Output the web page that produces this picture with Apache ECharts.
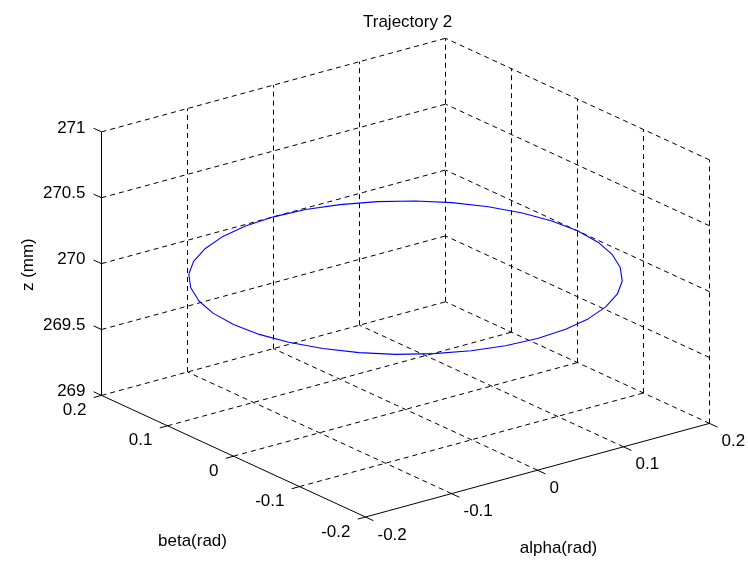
<!DOCTYPE html>
<html>
<head>
<meta charset="utf-8">
<title>Trajectory 2</title>
<script src="https://cdn.jsdelivr.net/npm/echarts@6/dist/echarts.min.js"></script>
<style>
  html, body { margin: 0; padding: 0; background: #fff; }
  #chart { width: 748px; height: 562px; }
</style>
</head>
<body>
<div id="chart"></div>
<script>
// ---- data ----
const alphaTicks = [-0.2, -0.1, 0, 0.1, 0.2];
const betaTicks = [-0.2, -0.1, 0, 0.1, 0.2];
const zTicks = [269, 269.5, 270, 270.5, 271];
const alphaTickLabels = ['-0.2', '-0.1', '0', '0.1', '0.2'];
const betaTickLabels = ['-0.2', '-0.1', '0', '0.1', '0.2'];
const zTickLabels = ['269', '269.5', '270', '270.5', '271'];

// trajectory samples (alpha, beta in rad; z in mm)
const trajAlpha = [0.2, 0.197, 0.188, 0.173, 0.153, 0.129, 0.1, 0.068, 0.035, 0, -0.035, -0.068, -0.1, -0.129, -0.153, -0.173, -0.188, -0.197, -0.2, -0.197, -0.188, -0.173, -0.153, -0.129, -0.1, -0.068, -0.035, 0, 0.035, 0.068, 0.1, 0.129, 0.153, 0.173, 0.188, 0.197, 0.2];
const trajBeta = [0, 0.035, 0.068, 0.1, 0.129, 0.153, 0.173, 0.188, 0.197, 0.2, 0.197, 0.188, 0.173, 0.153, 0.129, 0.1, 0.068, 0.035, 0, -0.035, -0.068, -0.1, -0.129, -0.153, -0.173, -0.188, -0.197, -0.2, -0.197, -0.188, -0.173, -0.153, -0.129, -0.1, -0.068, -0.035, 0];
const trajZ = [270, 270, 270, 270, 270, 270, 270, 270, 270, 270, 270, 270, 270, 270, 270, 270, 270, 270, 270, 270, 270, 270, 270, 270, 270, 270, 270, 270, 270, 270, 270, 270, 270, 270, 270, 270, 270];

// ---- view: orthographic projection of the 3D box onto the page plane ----
const aMin = alphaTicks[0], aMax = alphaTicks[alphaTicks.length - 1];
const bMin = betaTicks[0], bMax = betaTicks[betaTicks.length - 1];
const zMin = zTicks[0], zMax = zTicks[zTicks.length - 1];
const VIEW = {
  origin: [365.5, 517],        // (aMin, bMin, zMin)
  alphaSpan: [344, -93.6],     // full alpha range
  betaSpan: [-264, -121.6],    // full beta range
  zSpan: [0, -263.5]           // full z range
};
function proj(a, b, z) {
  const u = (a - aMin) / (aMax - aMin);
  const v = (b - bMin) / (bMax - bMin);
  const w = (z - zMin) / (zMax - zMin);
  return [
    VIEW.origin[0] + u * VIEW.alphaSpan[0] + v * VIEW.betaSpan[0] + w * VIEW.zSpan[0],
    VIEW.origin[1] + u * VIEW.alphaSpan[1] + v * VIEW.betaSpan[1] + w * VIEW.zSpan[1]
  ];
}

// ---- box grid, axes and ticks as 3D segments ----
const gridSegs = [];
alphaTicks.forEach(a => { if (a !== aMin) gridSegs.push([a, bMax, zMin, a, bMax, zMax]); });
zTicks.forEach(z => { if (z !== zMin) gridSegs.push([aMin, bMax, z, aMax, bMax, z]); });
betaTicks.forEach(b => { if (b !== bMax) gridSegs.push([aMax, b, zMin, aMax, b, zMax]); });
zTicks.forEach(z => { if (z !== zMin) gridSegs.push([aMax, bMin, z, aMax, bMax, z]); });
alphaTicks.forEach(a => { if (a !== aMin) gridSegs.push([a, bMin, zMin, a, bMax, zMin]); });
betaTicks.forEach(b => { if (b !== bMin) gridSegs.push([aMin, b, zMin, aMax, b, zMin]); });

const tickA = 0.009, tickB = 0.012;
const axisSegs = [
  [aMin, bMax, zMin, aMin, bMax, zMax],
  [aMin, bMin, zMin, aMin, bMax, zMin],
  [aMin, bMin, zMin, aMax, bMin, zMin]
];
zTicks.forEach(z => axisSegs.push([aMin, bMax, z, aMin, bMax + tickB, z]));
betaTicks.forEach(b => axisSegs.push([aMin, b, zMin, aMin - tickA, b, zMin]));
alphaTicks.forEach(a => axisSegs.push([a, bMin, zMin, a, bMin - tickB, zMin]));

const FONT = '17px "Liberation Sans", Arial, sans-serif';

function segSeries(data, stroke, dash) {
  return {
    type: 'custom',
    coordinateSystem: 'cartesian2d',
    silent: true,
    clip: false,
    data: data,
    renderItem: function (params, api) {
      const p1 = api.coord(proj(api.value(0), api.value(1), api.value(2)));
      const p2 = api.coord(proj(api.value(3), api.value(4), api.value(5)));
      return {
        type: 'line',
        shape: { x1: p1[0], y1: p1[1], x2: p2[0], y2: p2[1] },
        style: { stroke: stroke, lineWidth: 1, lineDash: dash }
      };
    }
  };
}

// text placed next to a projected 3D anchor
function labelSeries(points, texts, dx, dy, align, rotation) {
  return {
    type: 'custom',
    coordinateSystem: 'cartesian2d',
    silent: true,
    clip: false,
    data: points,
    renderItem: function (params, api) {
      const p = api.coord(proj(api.value(0), api.value(1), api.value(2)));
      return {
        type: 'text',
        x: p[0] + dx,
        y: p[1] + dy,
        rotation: rotation || 0,
        style: {
          text: texts[params.dataIndex],
          fill: '#000',
          font: FONT,
          align: align,
          textAlign: align,
          verticalAlign: 'middle',
          textVerticalAlign: 'middle'
        }
      };
    }
  };
}

const trajectory = trajAlpha.map((a, i) => proj(a, trajBeta[i], trajZ[i]));

const chart = echarts.init(document.getElementById('chart'), null, { renderer: 'canvas' });
chart.setOption({
  animation: false,
  backgroundColor: '#ffffff',
  title: {
    text: 'Trajectory 2',
    left: 358,
    top: 9,
    textStyle: { fontSize: 17, fontWeight: 'normal', color: '#000', fontFamily: '"Liberation Sans", Arial, sans-serif' }
  },
  grid: { left: 0, right: 0, top: 0, bottom: 0 },
  xAxis: { type: 'value', min: 0, max: 748, show: false },
  yAxis: { type: 'value', min: 0, max: 562, inverse: true, show: false },
  series: [
    segSeries(gridSegs, '#000', [5, 4]),
    segSeries(axisSegs, '#000', null),
    {
      type: 'line',
      data: trajectory,
      showSymbol: false,
      silent: true,
      lineStyle: { color: '#0000ff', width: 1.1 }
    },
    labelSeries(zTicks.map(z => [aMin, bMax, z]), zTickLabels, -16, -4, 'right'),
    labelSeries(betaTicks.map(b => [aMin, b, zMin]), betaTickLabels, -15, 15, 'right'),
    labelSeries(alphaTicks.map(a => [a, bMin, zMin]), alphaTickLabels, 12, 18, 'left'),
    labelSeries([[aMin, 0, zMin]], ['beta(rad)'], -41, 85, 'center'),
    labelSeries([[0, bMin, zMin]], ['alpha(rad)'], 21, 78, 'center'),
    labelSeries([[aMin, bMax, (zMin + zMax) / 2]], ['z (mm)'], -73, 1, 'center', Math.PI / 2)
  ]
});
</script>
</body>
</html>
